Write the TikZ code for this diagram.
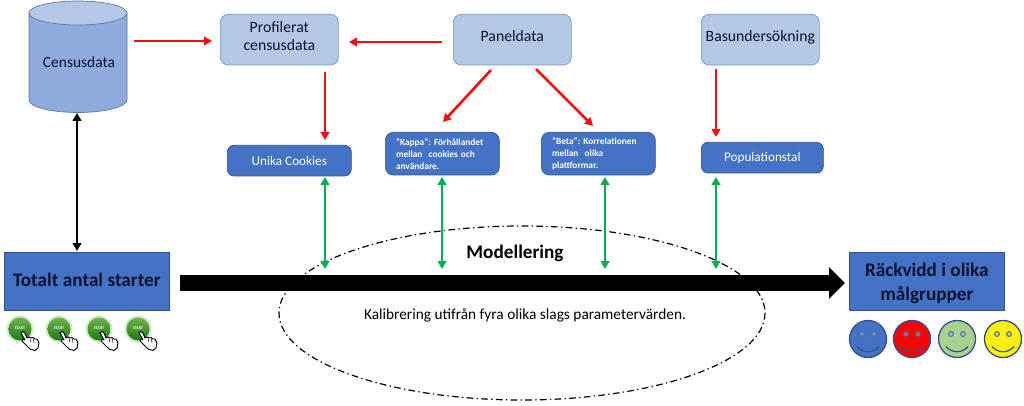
\documentclass[tikz,border=0pt]{standalone}
\usepackage{fontspec}
\setmainfont{Carlito}
\usetikzlibrary{arrows.meta}
\definecolor{dkblue}{HTML}{4472C4}
\definecolor{ltblue}{HTML}{B4C7E7}
\definecolor{cylblue}{HTML}{8FAADC}
\definecolor{edgeblue}{HTML}{2F528F}
\definecolor{redarrow}{HTML}{F01010}
\definecolor{greenarrow}{HTML}{00B050}
\definecolor{txtdark}{HTML}{0B1330}
\definecolor{smgreen}{HTML}{A9D18E}
\definecolor{btntop}{HTML}{6FB24A}
\definecolor{btnbot}{HTML}{1E7A14}
\definecolor{btnhalo}{HTML}{CFE8C8}
\newcommand{\padb}{\rule[-6pt]{0pt}{0pt}}
\tikzset{
  x=0.75pt,y=-0.75pt,
  lightbox/.style={draw=cylblue!70!edgeblue,line width=0.5pt,fill=ltblue,rounded corners=6pt,text=txtdark,align=center,font=\fontsize{11.8}{13.5}\selectfont,anchor=north west,inner sep=0pt},
  darkbox/.style={draw=edgeblue,line width=0.5pt,fill=dkblue,rounded corners=5pt,text=white,font=\fontsize{9.9}{11}\selectfont,anchor=north west,inner sep=0pt},
  smallbox/.style={draw=edgeblue,line width=0.5pt,fill=dkblue,rounded corners=6pt,text=white,font=\fontsize{7}{9}\selectfont\bfseries\frenchspacing,anchor=north west,inner xsep=8pt,inner ysep=0pt,align=left},
  bigbox/.style={draw=edgeblue,line width=0.5pt,fill=dkblue,text=txtdark,font=\fontsize{14.4}{18}\selectfont\bfseries,align=center,anchor=north west,inner sep=0pt},
  redline/.style={draw=redarrow,line width=2pt,-{Triangle[length=6pt,width=6.5pt]}},
  blackline/.style={draw=black,line width=2pt,{Triangle[length=6pt,width=6.5pt]}-{Triangle[length=6pt,width=6.5pt]}},
  greenline/.style={draw=greenarrow,line width=2pt,{Triangle[length=6pt,width=6.5pt]}-{Triangle[length=6pt,width=6.5pt]}},
  plain/.style={inner sep=0pt,text=black},
  smiley/.pic={
    \fill[fill=#1,draw=edgeblue,line width=1pt] (0,0) circle[radius=18.5];
    \draw[edgeblue!85,line width=0.8pt,fill=#1!70!edgeblue!70!white] (-6,-5) circle[radius=2.4] (6,-5) circle[radius=2.4];
    \draw[edgeblue,line width=0.9pt] (-11,7.5) .. controls (-5,14.5) and (5,14.5) .. (11,7.5);
  },
  startbtn/.pic={
    \fill[btnhalo] (0,0) circle[radius=13.5];
    \shade[top color=btntop,bottom color=btnbot] (0,0) circle[radius=11.5];
    \node[inner sep=0pt,text=white,font=\fontsize{3}{3}\selectfont\bfseries] at (0,-1) {START};
    \draw[black,line width=0.7pt,fill=white,line join=round]
      (1,4) -- (3,2.5) -- (5,4) -- (7,9) -- (9,8) -- (11,9) -- (13,8.5) -- (15,10) -- (17,10) -- (19,14) -- (18,19) -- (15,21.5) -- (10,20) -- (5,15) -- (2,12) -- (3,10.5) -- (5,11) -- cycle;
    \draw[black,line width=0.4pt] (10,10) -- (11,13) (13.5,10) -- (14,14);
  }
}
\begin{document}
\begin{tikzpicture}
\useasboundingbox (0,0) rectangle (1024,406);
% cylinder
\fill[cylblue] (29,13) -- (29,100) arc[start angle=180,end angle=0,x radius=49,y radius=12.5] -- (127,13) -- cycle;
\draw[edgeblue!80,line width=0.5pt] (29,13) -- (29,100) arc[start angle=180,end angle=0,x radius=49,y radius=12.5] -- (127,13);
\draw[edgeblue!80,line width=0.5pt,fill=ltblue] (78,13) ellipse[x radius=49,y radius=12];
\node[plain,text=txtdark,font=\fontsize{11.6}{14}\selectfont] (census) at (79,62) {Censusdata};
\coordinate (censusR) at (134,41);
\coordinate (censusB) at (77,113);
% top boxes
\node[lightbox,minimum width=88.5pt,minimum height=38pt] (prof) at (220,14) {Profilerat\\censusdata\padb};
\node[lightbox,minimum width=88.5pt,minimum height=38pt] (panel) at (453,14) {Paneldata\padb};
\node[lightbox,minimum width=88.5pt,minimum height=38pt] (bas) at (701,14) {Basundersökning\padb};
% mid boxes
\node[darkbox,minimum width=93pt,minimum height=23pt] (unika) at (227,145) {Unika Cookies};
\node[smallbox,minimum width=85.5pt,minimum height=32pt,text width=69.5pt] (kappa) at (385,132) {”Kappa”: Förhållandet\\mellan\ \ cookies och\\användare.};
\node[smallbox,minimum width=85.5pt,minimum height=32pt,text width=69.5pt] (beta) at (541,132) {”Beta”: Korrelationen\\mellan\ \ olika\\plattformar.};
\node[darkbox,minimum width=91.5pt,minimum height=23pt] (pop) at (701,142) {Populationstal};
% big boxes
\node[bigbox,minimum width=123.75pt,minimum height=43.5pt] (tot) at (4,252) {Totalt antal starter\rule[-2.5pt]{0pt}{0pt}};
\node[bigbox,minimum width=116.25pt,minimum height=43.5pt] (rack) at (849,252) {\rule{0pt}{13.5pt}Räckvidd i olika\\målgrupper};
% ellipse
\draw[black,line width=0.9pt,dash pattern=on 5pt off 2.5pt on 1pt off 2.5pt,fill=white] (522,313) ellipse[x radius=243,y radius=87];
% big arrow
\coordinate (bigS) at (180,283);
\coordinate (bigE) at (845,283);
\draw[black,line width=12pt,-{Triangle[length=12pt,width=23pt]}] (bigS) -- (bigE);
\node[plain,font=\fontsize{14.4}{16}\selectfont\bfseries] (model) at (515,253) {Modellering};
\node[plain,font=\fontsize{11.5}{14}\selectfont] (kal) at (525,315) {Kalibrering utifrån fyra olika slags parametervärden.};
% red arrows
\coordinate (p1) at (212,41);
\draw[redline] (censusR) -- (p1);
\coordinate (a1) at (442,42); \coordinate (a2) at (349,42);
\draw[redline] (a1) -- (a2);
\coordinate (b1) at (325,72); \coordinate (b2) at (325,140);
\draw[redline] (b1) -- (b2);
\coordinate (c1) at (491,70); \coordinate (c2) at (443,122);
\draw[redline] (c1) -- (c2);
\coordinate (d1) at (536,69); \coordinate (d2) at (593,126);
\draw[redline] (d1) -- (d2);
\coordinate (e1) at (716,69); \coordinate (e2) at (716,137);
\draw[redline] (e1) -- (e2);
% black
\coordinate (totT) at (77,251);
\draw[blackline] (censusB) -- (totT);
% green
\foreach \n/\xx in {f/325,g/442,h/605,i/716}{
  \coordinate (\n1) at (\xx,177); \coordinate (\n2) at (\xx,269);
  \draw[greenline] (\n1) -- (\n2);
}
% start buttons
\foreach \xx in {20,59,99,138}{ \pic at (\xx,329) {startbtn}; }
% smileys
\pic at (868,339) {smiley=dkblue};
\pic at (912,339) {smiley=red};
\pic at (957,339) {smiley=smgreen};
\pic at (1003,339) {smiley=yellow};
\end{tikzpicture}
\end{document}
